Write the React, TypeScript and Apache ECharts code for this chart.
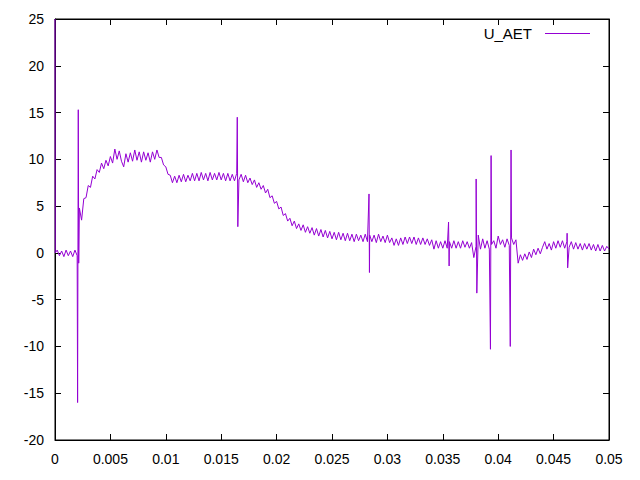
import React, { useEffect, useRef } from "react";
import * as echarts from "echarts";

// sampling step of the recorded signal (s)
const SAMPLE_STEP = 0.0002;

// U_AET samples, one every SAMPLE_STEP from t = 0
const U_AET = [
  25, 0.3, -0.3, 0.2, -0.4, 0.3, -0.3, 0.2, -0.4, 0.3,
  -0.3, 4.8, 3.5, 5.8, 5.9, 7.2, 7.0, 8.2, 7.9, 8.9,
  8.6, 9.6, 9.0, 9.9, 9.3, 10.3, 9.6, 11.1, 10.0, 10.9,
  9.8, 9.2, 10.6, 9.7, 10.7, 9.8, 11.0, 9.9, 10.8, 9.7,
  10.8, 9.9, 10.7, 9.7, 10.8, 10.0, 11.0, 10.2, 10.2, 9.4,
  9.2, 8.4, 8.3, 7.5, 8.2, 7.5, 8.3, 7.6, 8.4, 7.6,
  8.3, 7.7, 8.5, 7.7, 8.5, 7.7, 8.6, 7.8, 8.5, 7.7,
  8.6, 7.8, 8.5, 7.8, 8.6, 7.8, 8.5, 7.7, 8.5, 7.7,
  8.4, 7.7, 8.5, 7.8, 8.4, 7.6, 8.3, 7.5, 8.0, 7.3,
  7.8, 7.0, 7.5, 6.8, 7.2, 6.4, 6.8, 5.9, 6.1, 5.3,
  5.5, 4.7, 4.9, 4.0, 4.2, 3.4, 3.7, 2.9, 3.4, 2.6,
  3.1, 2.4, 3.0, 2.2, 2.8, 2.1, 2.7, 1.9, 2.6, 1.8,
  2.5, 1.7, 2.4, 1.6, 2.3, 1.5, 2.2, 1.4, 2.2, 1.4,
  2.1, 1.3, 2.1, 1.3, 2.0, 1.2, 2.0, 1.3, 1.9, 1.2,
  2.0, 1.2, 1.9, 1.2, 1.9, 1.1, 2.0, 1.2, 1.8, 1.1,
  1.9, 1.1, 1.6, 0.8, 1.5, 0.8, 1.6, 0.9, 1.7, 1.0,
  1.7, 1.0, 1.7, 0.9, 1.6, 0.9, 1.6, 0.9, 1.5, 0.8,
  1.4, 0.4, 1.3, 0.5, 1.2, 0.5, 1.3, 0.5, 1.2, 0.5,
  1.3, 0.5, 1.2, 0.5, 1.3, 0.6, 1.2, 0.5, 1.1, -0.5,
  0.7, 1.9, 0.4, 1.5, 0.5, 1.3, 0.4, 0.9, 1.3, 0.5,
  1.8, 0.9, 1.4, 0.6, 1.5, 0.8, 1.6, 0.9, 1.4, -1.1,
  -0.2, -0.8, -0.1, -0.7, 0.1, -0.5, 0.4, -0.2, 0.5, -0.1,
  0.6, 1.2, 0.4, 1.0, 0.3, 1.2, 0.5, 1.3, 0.6, 1.3,
  0.5, 1.2, 0.6, 1.2, 0.4, 1.1, 0.4, 1.0, 0.3, 1.0,
  0.4, 1.0, 0.3, 0.9, 0.2, 0.9, 0.2, 0.8, 0.2, 0.7,
  0.4,
];

// short transients between regular samples: time (s)
const SPIKE_T = [
  0.00002,
  0.00204, 0.0021, 0.00214,
  0.01645, 0.0165,
  0.02834, 0.02838,
  0.03552, 0.03557,
  0.03801, 0.03807,
  0.0393, 0.03936,
  0.04109, 0.04116,
  0.04622, 0.04627,
];
// transient values (V)
const SPIKE_V = [
  0.0,
  -16.0, 15.3, -1.1,
  14.5, 2.8,
  6.3, -2.1,
  3.3, -1.4,
  7.9, -4.3,
  -10.3, 10.4,
  -10.0, 11.0,
  2.1, -1.6,
];

const X_TICKS = [0, 0.005, 0.01, 0.015, 0.02, 0.025, 0.03, 0.035, 0.04, 0.045, 0.05];
const Y_TICKS = [-20, -15, -10, -5, 0, 5, 10, 15, 20, 25];

const FONT = "Liberation Sans";
const LINE_COLOR = "#9400d3";

export default function App() {
  const ref = useRef<HTMLDivElement>(null);

  useEffect(() => {
    if (!ref.current) return;
    const chart = echarts.init(ref.current, undefined, { renderer: "svg" });

    const pts: [number, number][] = U_AET.map((v, i) => [
      +(i * SAMPLE_STEP).toFixed(5),
      v,
    ]);
    SPIKE_T.forEach((t, k) => pts.push([t, SPIKE_V[k]]));
    pts.sort((a, b) => a[0] - b[0]);

    const xMin = X_TICKS[0];
    const xMax = X_TICKS[X_TICKS.length - 1];
    const xInt = X_TICKS[1] - X_TICKS[0];
    const yMin = Y_TICKS[0];
    const yMax = Y_TICKS[Y_TICKS.length - 1];
    const yInt = Y_TICKS[1] - Y_TICKS[0];

    const fmtX = (v: number) => String(+v.toFixed(3));

    const axisLine = { show: true, onZero: false, lineStyle: { color: "#000", width: 1 } };
    const axisTick = { show: true, inside: true, length: 6, lineStyle: { color: "#000", width: 1 } };
    const labelStyle = { color: "#000", fontFamily: FONT, fontSize: 14 };

    chart.setOption({
      animation: false,
      backgroundColor: "#fff",
      grid: {
        left: 55,
        right: 31,
        top: 19,
        bottom: 40,
        show: true,
        borderColor: "#000",
        borderWidth: 1,
        backgroundColor: "transparent",
      },
      legend: {
        show: true,
        right: 45,
        top: 21,
        align: "right",
        itemWidth: 45,
        itemHeight: 1,
        itemGap: 0,
        icon: "rect",
        itemStyle: { color: LINE_COLOR },
        textStyle: { ...labelStyle, fontSize: 15, padding: [0, 8, 0, 0] },
        data: ["U_AET"],
      },
      xAxis: [
        {
          type: "value",
          min: xMin,
          max: xMax,
          interval: xInt,
          position: "bottom",
          axisLine,
          axisTick,
          splitLine: { show: false },
          axisLabel: { ...labelStyle, margin: 12, formatter: fmtX, showMinLabel: true, showMaxLabel: true },
        },
        {
          type: "value",
          min: xMin,
          max: xMax,
          interval: xInt,
          position: "top",
          axisLine,
          axisTick,
          splitLine: { show: false },
          axisLabel: { show: false },
        },
      ],
      yAxis: [
        {
          type: "value",
          min: yMin,
          max: yMax,
          interval: yInt,
          position: "left",
          axisLine,
          axisTick,
          splitLine: { show: false },
          axisLabel: { ...labelStyle, margin: 11 },
        },
        {
          type: "value",
          min: yMin,
          max: yMax,
          interval: yInt,
          position: "right",
          axisLine,
          axisTick,
          splitLine: { show: false },
          axisLabel: { show: false },
        },
      ],
      series: [
        {
          name: "U_AET",
          type: "line",
          data: pts,
          showSymbol: false,
          symbol: "none",
          clip: false,
          z: 10,
          lineStyle: { color: LINE_COLOR, width: 1 },
          itemStyle: { color: LINE_COLOR },
        },
      ],
    });

    return () => chart.dispose();
  }, []);

  return <div ref={ref} style={{ width: 640, height: 480, position: "absolute", left: 0, top: 0 }} />;
}
